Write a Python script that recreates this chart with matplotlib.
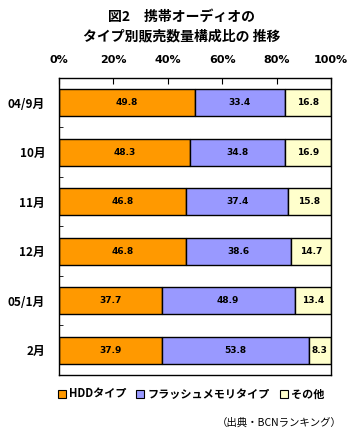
import numpy as np
import matplotlib
matplotlib.use("Agg")
import matplotlib.pyplot as plt
from matplotlib.patches import Patch

plt.rcParams['font.family'] = ['Noto Sans CJK JP', 'DejaVu Sans']

months = ["04/9月", "10月", "11月", "12月", "05/1月", "2月"]
hdd = [49.8, 48.3, 46.8, 46.8, 37.7, 37.9]
flash = [33.4, 34.8, 37.4, 38.6, 48.9, 53.8]
other = [16.8, 16.9, 15.8, 14.7, 13.4, 8.3]
series_names = ["HDDタイプ", "フラッシュメモリタイプ", "その他"]
colors = ["#FF9900", "#9999FF", "#FFFFCC"]

fig = plt.figure(figsize=(3.56, 4.38), dpi=100)
ax = fig.add_axes([0.166, 0.144, 0.764, 0.678])

y = np.arange(len(months))
left = np.zeros(len(months))
for vals, c in zip([hdd, flash, other], colors):
    vals = np.array(vals)
    ax.barh(y, vals, left=left, height=0.55, color=c, edgecolor="black", linewidth=1)
    for yi, l, v in zip(y, left, vals):
        ax.text(l + v / 2, yi, f"{v:.1f}", ha="center", va="center",
                fontsize=6.5, fontweight="bold", family="DejaVu Sans")
    left = left + vals

ax.set_xlim(0, 100)
ax.set_ylim(len(months) - 0.5, -0.5)
ax.xaxis.tick_top()
ax.set_xticks(np.arange(0, 101, 20))
ax.set_xticklabels([f"{t}%" for t in range(0, 101, 20)], fontsize=8, fontweight="bold",
                   family="DejaVu Sans")
ax.tick_params(axis="x", direction="in", length=4, pad=9)
ax.set_yticks(np.arange(len(months) + 1) - 0.5, minor=True)
ax.set_yticks(y)
ax.set_yticklabels(months, fontsize=8.5, fontweight="bold")
ax.tick_params(axis="y", which="major", length=0, pad=10)
ax.tick_params(axis="y", which="minor", direction="in", length=3)
for s in ax.spines.values():
    s.set_linewidth(1)

fig.text(0.51, 0.962, "図2　携帯オーディオの", ha="center", va="center", fontsize=10, fontweight="bold")
fig.text(0.51, 0.918, "タイプ別販売数量構成比の 推移", ha="center", va="center", fontsize=10, fontweight="bold")

handles = [Patch(facecolor=c, edgecolor="black", linewidth=0.8) for c in colors]
fig.legend(handles, series_names, loc="center", bbox_to_anchor=(0.537, 0.1), ncol=3,
           frameon=False, handlelength=0.7, handleheight=0.7,
           handletextpad=0.3, columnspacing=0.9, prop={"weight": "bold", "size": 8})

fig.text(0.96, 0.036, "（出典・BCNランキング）", ha="right", va="center", fontsize=7.5)

fig.savefig("out.png", dpi=100)
